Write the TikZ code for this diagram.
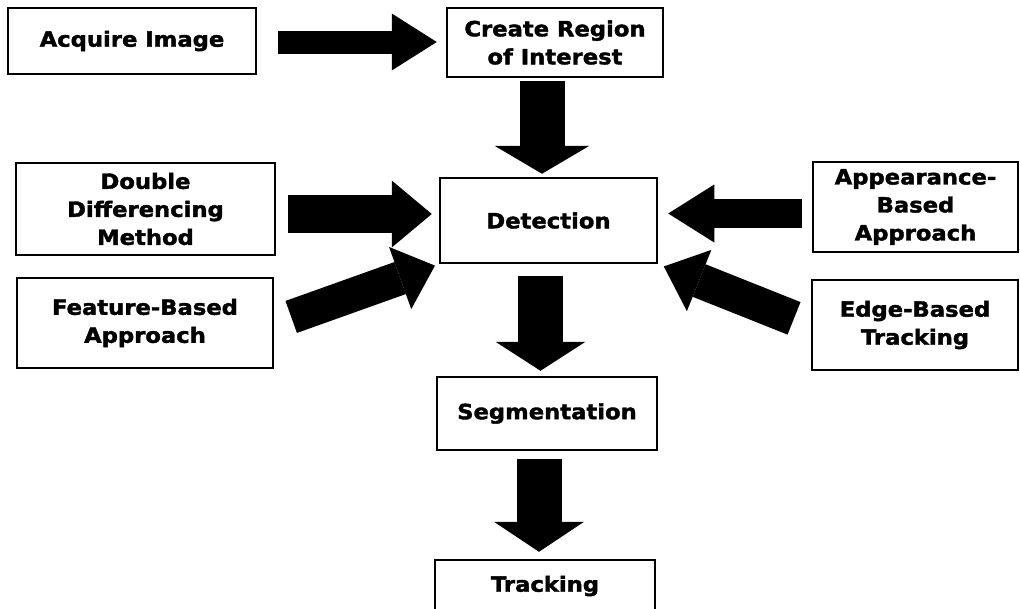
\documentclass[tikz,border=0pt]{standalone}
\usepackage{fontspec}
\setmainfont{DejaVu Sans}[FakeStretch=1.08,BoldFeatures={FakeBold=1.8}]
\usetikzlibrary{arrows.meta}

\begin{document}
\begin{tikzpicture}[x=1pt,y=-1pt,line width=2.5pt,
  box/.style={draw,align=center,inner sep=0pt,font=\fontsize{21}{28}\selectfont\bfseries},
  blk/.style n args={3}{line width=#1,-{Triangle[length=#2,width=#3,line width=0pt]}}]
  \useasboundingbox (0,0) rectangle (1020,608);
  \clip (0,0) rectangle (1020,608);
  % cajas
  \node[box,minimum width=248pt,minimum height=66pt] (acq) at (132,41) {Acquire Image};
  \node[box,minimum width=216pt,minimum height=69pt] (roi) at (555,42.5) {Create Region\\of Interest};
  \node[box,minimum width=217pt,minimum height=85pt] (det) at (548.5,220.5) {Detection};
  \node[box,minimum width=259pt,minimum height=92pt] (ddm) at (145.5,209) {Double\\Differencing\\Method};
  \node[box,minimum width=256pt,minimum height=90pt] (fba) at (145,323) {Feature-Based\\Approach};
  \node[box,minimum width=205pt,minimum height=90pt] (aba) at (915.5,207) {Appearance-\\Based\\Approach};
  \node[box,minimum width=206pt,minimum height=90pt] (ebt) at (915,325) {Edge-Based\\Tracking};
  \node[box,minimum width=220pt,minimum height=73pt] (seg) at (547,413.5) {Segmentation};
  \node[box,minimum width=220pt,minimum height=52pt] (trk) at (545,586) {Tracking};
  % flechas gruesas
  \draw[blk={23pt}{45pt}{57pt},shorten <=21pt,shorten >=9pt] ([yshift=-1pt]acq.east) -- ([yshift=0.5pt]roi.west);
  \draw[blk={45pt}{28pt}{95pt},shorten <=3pt,shorten >=3pt] ([xshift=-13pt]roi.south) -- ([xshift=-6.5pt]det.north);
  \draw[blk={38pt}{40pt}{67pt},shorten <=12pt,shorten >=7pt] ([yshift=-5pt]ddm.east) -- ([yshift=6.5pt]det.west);
  \draw[blk={29pt}{46pt}{58pt},shorten <=10pt,shorten >=10pt] ([yshift=-6.5pt]aba.west) -- ([yshift=7pt]det.east);
  \draw[blk={34pt}{37pt}{66pt},shorten <=18pt,shorten >=4pt] (fba.east) -- (det.south west);
  \draw[blk={35pt}{38pt}{66pt},shorten <=18pt,shorten >=6pt] (ebt.west) -- (det.south east);
  \draw[blk={45pt}{29pt}{90pt},shorten <=12pt,shorten >=5pt] ([xshift=-8pt]det.south) -- ([xshift=-6.5pt]seg.north);
  \draw[blk={45pt}{30pt}{90pt},shorten <=8pt,shorten >=7pt] ([xshift=-8pt]seg.south) -- ([xshift=-6pt]trk.north);
\end{tikzpicture}
\end{document}
